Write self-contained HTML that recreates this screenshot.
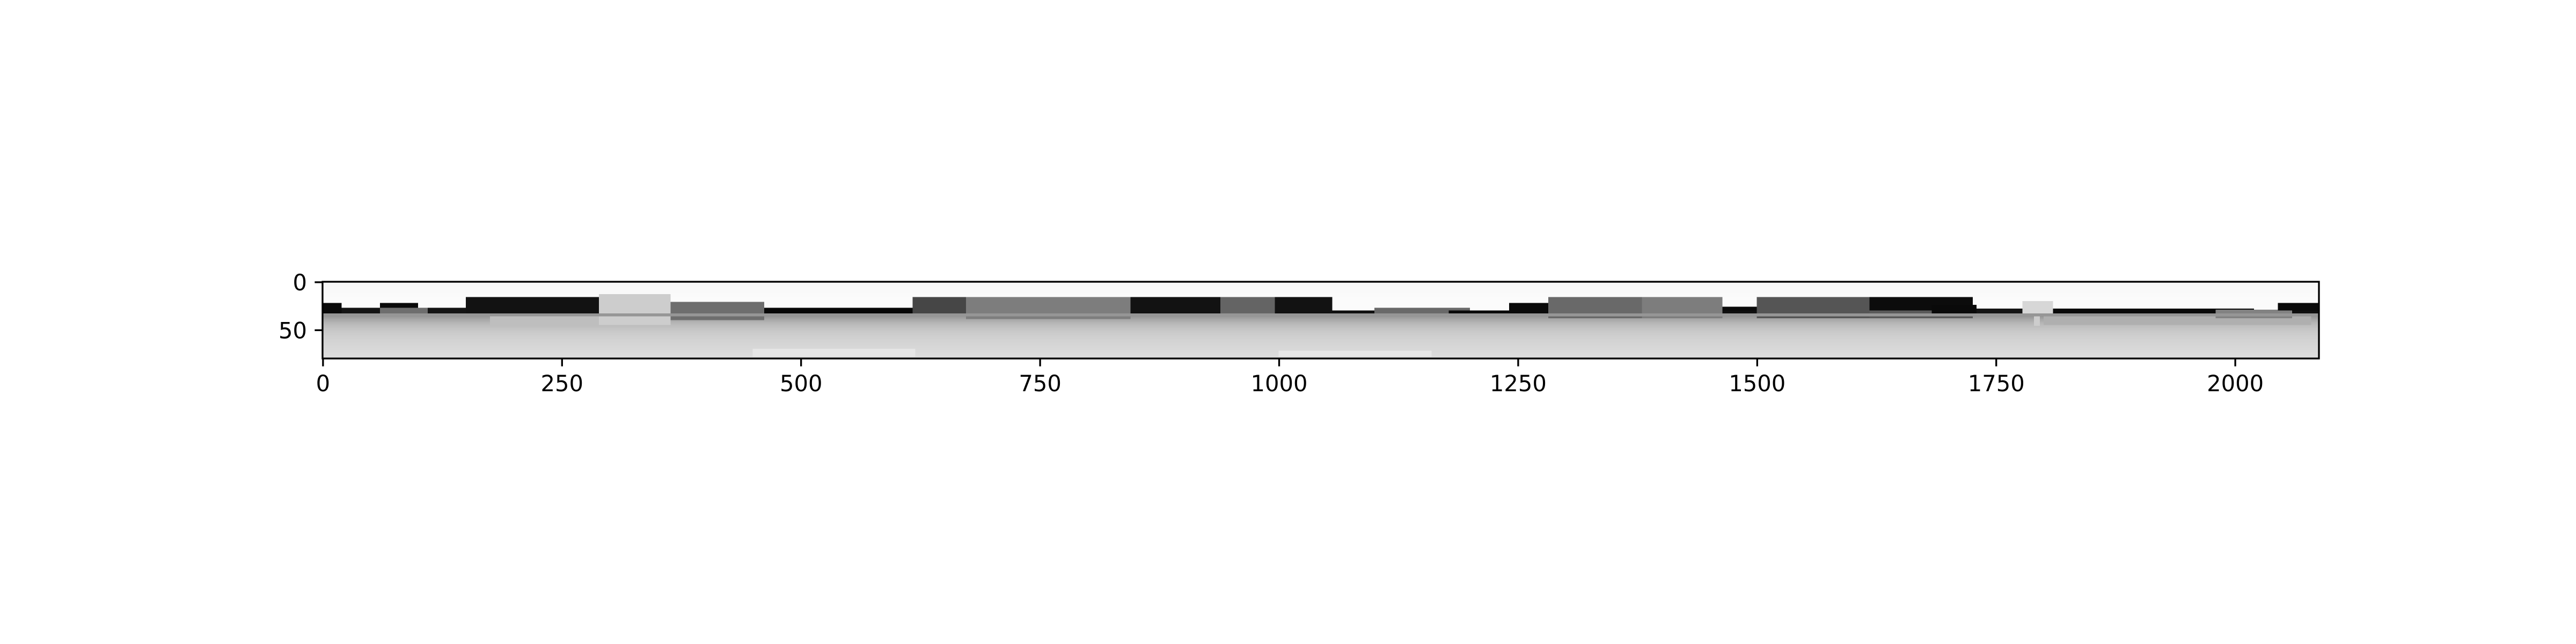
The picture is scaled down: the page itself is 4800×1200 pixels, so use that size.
<!DOCTYPE html>
<html><head><meta charset="utf-8"><style>
html,body{margin:0;padding:0;background:#fff;}
svg{display:block;}
text{font-family:"DejaVu Sans","Liberation Sans",sans-serif;font-size:41.67px;fill:#000;}
</style></head><body>
<svg id="chart" width="4800" height="1200" viewBox="0 0 4800 1200" xmlns="http://www.w3.org/2000/svg">
<rect x="0" y="0" width="4800" height="1200" fill="#fff"/>
<g id="img" shape-rendering="crispEdges"></g>
<g id="axes"></g>
</svg>
<script>
// image dimensions (data units)
const nCols = 2088;
const nRows = 80;
// base gray per row (sky, horizon, ground)
const rowGray = [246,246,247,247,247,248,248,248,248,249,249,249,250,250,250,250,
 251,251,251,251,251,251,251,251,251,251,251,251,251,251,251,251,251,
 125,135,145,152,158,163,168,172,176,180,183,186,189,191,193,195,197,199,200,202,203,204,205,206,
 207,208,209,210,211,211,212,213,213,214,215,215,216,216,217,217,218,219,219,220,220,221,222];
// objects: start col, end col, top row, bottom row, gray
const segStart = [0,0,20,60,60,150,175,289,364,462,617,673,845,939,1056,1100,1178,1241,1282,1380,1464,1500,1618,1618,1683,1730,1800,1810,1778,1790,1980,2045,0,450,1000];
const segEnd   = [2088,20,150,100,110,289,300,364,462,617,673,845,1056,996,1300,1200,1241,1282,1380,1464,1500,1618,1726,1726,1730,1780,2080,2020,1810,1796,2060,2088,2088,620,1160];
const segTop   = [30,22,27,22,27,16,34,13,21,27,16,16,16,16,31,27,30,22,16,16,26,16,16,30,24,28,33,28,20,33,29,22,33,70,72];
const segBot   = [33,33,33,30,35,36,45,45,40,33,36,39,32,35,33,34,33,33,38,38,30,38,33,38,33,33,45,33,33,46,38,30,36,78,78];
const segGray  = [15,10,20,10,110,18,190,205,110,8,70,125,18,100,15,105,10,10,105,125,10,85,12,90,10,20,175,10,215,205,130,10,150,230,232];

const X0 = 601, X1 = 4321, Y0 = 525, Y1 = 668;
const sx = (X1 - X0) / nCols, sy = (Y1 - Y0) / nRows;
const xPix = c => X0 + c * sx;
const yPix = r => Y0 + r * sy;
const xTickPos = v => X0 + (v + 0.5) * sx;
const yTickPos = v => Y0 + (v + 0.5) * sy;
const NS = "http://www.w3.org/2000/svg";
const img = document.getElementById('img');
const g = v => `rgb(${v},${v},${v})`;

rowGray.forEach((v, r) => {
  const el = document.createElementNS(NS, 'rect');
  el.setAttribute('x', xPix(0)); el.setAttribute('y', yPix(r));
  el.setAttribute('width', xPix(nCols) - xPix(0)); el.setAttribute('height', sy + 0.6);
  el.setAttribute('fill', g(v));
  
  
  img.appendChild(el);
});
segStart.forEach((s, i) => {
  const el = document.createElementNS(NS, 'rect');
  el.setAttribute('x', xPix(s)); el.setAttribute('y', yPix(segTop[i]));
  el.setAttribute('width', xPix(segEnd[i]) - xPix(s));
  el.setAttribute('height', yPix(segBot[i]) - yPix(segTop[i]));
  el.setAttribute('fill', g(segGray[i]));
  
  
  img.appendChild(el);
});

// axes
const xTicks = [0,250,500,750,1000,1250,1500,1750,2000];
const xTickLabels = ['0','250','500','750','1000','1250','1500','1750','2000'];
const yTicks = [0,50];
const yTickLabels = ['0','50'];
const axes = document.getElementById('axes');
const frame = document.createElementNS(NS, 'rect');
frame.setAttribute('x', X0); frame.setAttribute('y', Y0);
frame.setAttribute('width', X1 - X0); frame.setAttribute('height', Y1 - Y0);
frame.setAttribute('fill', 'none'); frame.setAttribute('stroke', '#000'); frame.setAttribute('stroke-width', 3.33);


axes.appendChild(frame);
xTicks.forEach((v, i) => {
  const x = xTickPos(v);
  const ln = document.createElementNS(NS, 'line');
  ln.setAttribute('x1', x); ln.setAttribute('x2', x); ln.setAttribute('y1', Y1); ln.setAttribute('y2', Y1 + 14.6);
  ln.setAttribute('stroke', '#000'); ln.setAttribute('stroke-width', 3.33);
  
  
  axes.appendChild(ln);
  const t = document.createElementNS(NS, 'text');
  t.setAttribute('x', x); t.setAttribute('y', 729); t.setAttribute('text-anchor', 'middle');
  t.textContent = xTickLabels[i];
  
  
  axes.appendChild(t);
});
yTicks.forEach((v, i) => {
  const y = yTickPos(v);
  const ln = document.createElementNS(NS, 'line');
  ln.setAttribute('x1', X0 - 14.6); ln.setAttribute('x2', X0); ln.setAttribute('y1', y); ln.setAttribute('y2', y);
  ln.setAttribute('stroke', '#000'); ln.setAttribute('stroke-width', 3.33);
  
  
  axes.appendChild(ln);
  const t = document.createElementNS(NS, 'text');
  t.setAttribute('x', X0 - 29); t.setAttribute('y', y + 15); t.setAttribute('text-anchor', 'end');
  t.textContent = yTickLabels[i];
  
  
  axes.appendChild(t);
});
</script>
</body></html>
